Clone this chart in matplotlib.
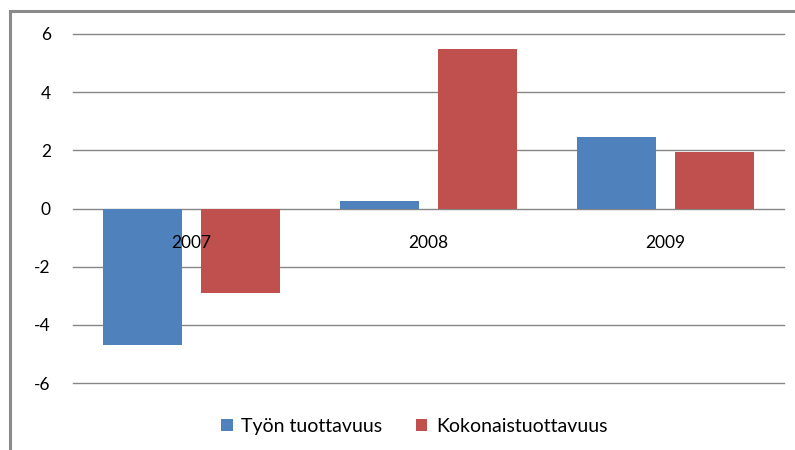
import matplotlib
matplotlib.use("Agg")
import matplotlib.pyplot as plt
from matplotlib.patches import Rectangle
import numpy as np

plt.rcParams['font.family'] = ['Lato', 'DejaVu Sans']

# data
years = ['2007', '2008', '2009']
tyon = [-4.7, 0.27, 2.45]
kokonais = [-2.9, 5.5, 1.95]
yticks = [-6, -4, -2, 0, 2, 4, 6]

blue = '#4f81bd'
red = '#c0504d'
grid_col = '#868686'

fig = plt.figure(figsize=(7.95, 4.5), dpi=100)
ax = fig.add_axes([73/795, 1-383/450, (784-73)/795, (383-34)/450])

# outer chart frame (cut off at right/bottom like the screenshot)
fig.patches.append(Rectangle((10/795, -0.1), 1.2, 1 - 11/450 + 0.1,
                             transform=fig.transFigure, fill=False,
                             edgecolor='#8a8a8a', linewidth=2.2))

x = np.arange(len(years))
w = 0.333
for yv in yticks:
    ax.axhline(yv, color=grid_col, lw=1, zorder=0, clip_on=False)
ax.bar(x - 0.208, tyon, w, color=blue, label='Työn tuottavuus', zorder=1)
ax.bar(x + 0.208, kokonais, w, color=red, label='Kokonaistuottavuus', zorder=1)

ax.set_xlim(-0.5, 2.5)
ax.set_ylim(-6, 6)
ax.set_yticks(yticks)
ax.set_yticklabels([str(v) for v in yticks])
ax.set_xticks(x)
ax.set_xticklabels(years)
for s in ax.spines.values():
    s.set_visible(False)
ax.spines['bottom'].set_position(('data', 0))
ax.tick_params(axis='both', length=0, labelsize=12.5, colors='black')
ax.tick_params(axis='y', pad=16)
ax.tick_params(axis='x', pad=19)
ax.set_zorder(2)

ax.legend(loc='center', bbox_to_anchor=(0.48, -0.125), ncol=2, frameon=False,
          fontsize=14, handlelength=0.6, handleheight=0.6,
          handletextpad=0.45, columnspacing=1.7)

fig.savefig('out.png', dpi=100)
